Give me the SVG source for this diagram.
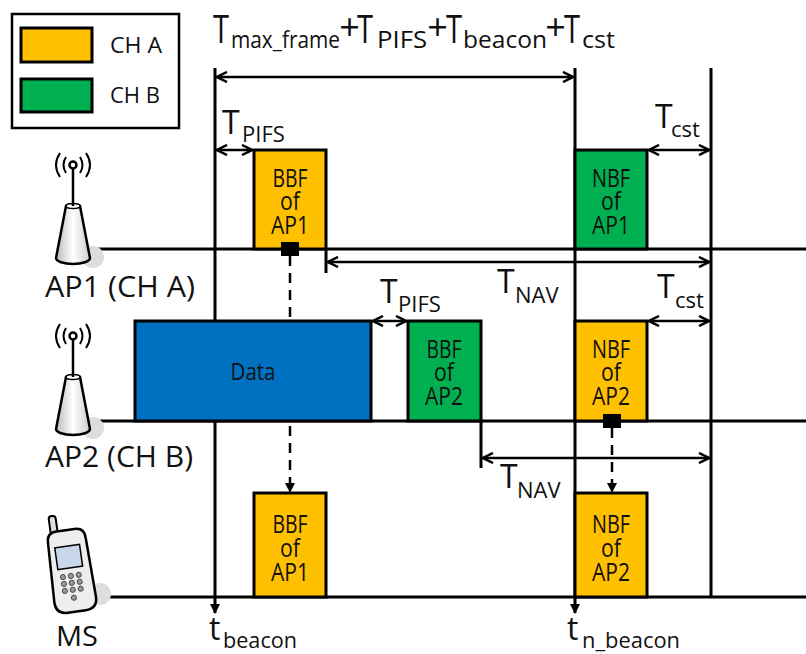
<svg xmlns="http://www.w3.org/2000/svg" width="806" height="654" viewBox="0 0 806 654">
<defs>
<style>
text{font-family:"Open Sans","Noto Sans","DejaVu Sans",sans-serif;fill:#111}
.ln{stroke:#000;stroke-width:3;fill:none}
.ar{stroke:#000;stroke-width:2.5;fill:none}
.box{stroke:#000;stroke-width:3}
.a{fill:#FFC000}
.b{fill:#00B050}
.d{fill:#0070C0}
.bt{font-size:25px;text-anchor:middle}
.tt{font-size:38px}
.ts{font-size:24px}
.tp{font-size:36px;text-anchor:middle}
.T{font-size:32px}
.s{font-size:22px}
.lab{font-size:30px}
</style>
<marker id="oa" viewBox="0 0 12 12" refX="11" refY="6" markerWidth="12" markerHeight="12" markerUnits="userSpaceOnUse" orient="auto-start-reverse">
<path d="M1,1 L11,6 L1,11" fill="none" stroke="#000" stroke-width="2.5"/>
</marker>
<marker id="fa" viewBox="0 0 10 10" refX="9" refY="5" markerWidth="10" markerHeight="10" markerUnits="userSpaceOnUse" orient="auto">
<path d="M0,0 L10,5 L0,10 Z" fill="#000"/>
</marker>
<linearGradient id="cone" x1="0" x2="1" y1="0" y2="0">
<stop offset="0" stop-color="#bbb"/><stop offset="0.5" stop-color="#fff"/><stop offset="1" stop-color="#ccc"/>
</linearGradient>
<g id="ant">
<circle cx="20" cy="-3" r="11" fill="#ddd"/>
<path d="M-7,-54 L7,-54 L17,-2 A17,6 0 0 1 -17,-2 Z" fill="url(#cone)" stroke="#000" stroke-width="2.5"/>
<ellipse cx="0" cy="-54" rx="7" ry="2.5" fill="#fff" stroke="#000" stroke-width="1.5"/>
<line x1="0" y1="-54" x2="0" y2="-93" stroke="#000" stroke-width="2.5"/>
<circle cx="0" cy="-95" r="3.5" fill="#fff" stroke="#000" stroke-width="2.5"/>
<path d="M-7,-103 Q-12,-95 -7,-87 M7,-103 Q12,-95 7,-87 M-13,-107 Q-21,-95 -13,-83 M13,-107 Q21,-95 13,-83" fill="none" stroke="#000" stroke-width="2"/>
</g>
</defs>
<rect width="806" height="654" fill="#fff"/>

<g id="legend">
<rect x="12" y="14" width="167" height="114" fill="#fff" stroke="#000" stroke-width="2.5"/>
<rect x="21" y="28" width="71" height="34" class="box a"/>
<rect x="21" y="79" width="71" height="33" class="box b"/>
<text x="110" y="53" font-size="21" textLength="52" lengthAdjust="spacingAndGlyphs">CH A</text>
<text x="110" y="103" font-size="21" textLength="50" lengthAdjust="spacingAndGlyphs">CH B</text>
</g>

<g id="connectors">
<line x1="215" y1="68" x2="215" y2="613" class="ln" marker-end="url(#fa)"/>
<line x1="575" y1="68" x2="575" y2="613" class="ln" marker-end="url(#fa)"/>
<line x1="711" y1="68" x2="711" y2="598" class="ln"/>
<line x1="73" y1="249" x2="806" y2="249" class="ln"/>
<line x1="90" y1="421" x2="806" y2="421" class="ln"/>
<line x1="95" y1="597" x2="806" y2="597" class="ln"/>
<line x1="217" y1="77" x2="573" y2="77" class="ar" marker-start="url(#oa)" marker-end="url(#oa)"/>
<line x1="217" y1="150" x2="252" y2="150" class="ar" marker-start="url(#oa)" marker-end="url(#oa)"/>
<line x1="649" y1="150" x2="709" y2="150" class="ar" marker-start="url(#oa)" marker-end="url(#oa)"/>
<line x1="326" y1="249" x2="326" y2="273" class="ln"/>
<line x1="328" y1="262" x2="709" y2="262" class="ar" marker-start="url(#oa)" marker-end="url(#oa)"/>
<line x1="373" y1="321" x2="406" y2="321" class="ar" marker-start="url(#oa)" marker-end="url(#oa)"/>
<line x1="649" y1="321" x2="709" y2="321" class="ar" marker-start="url(#oa)" marker-end="url(#oa)"/>
<line x1="481" y1="421" x2="481" y2="468" class="ln"/>
<line x1="483" y1="458" x2="709" y2="458" class="ar" marker-start="url(#oa)" marker-end="url(#oa)"/>
<line x1="290" y1="256" x2="290" y2="492" stroke="#000" stroke-width="2.5" stroke-dasharray="10,7" marker-end="url(#fa)"/>
<line x1="612" y1="428" x2="612" y2="492" stroke="#000" stroke-width="2.5" stroke-dasharray="10,7" marker-end="url(#fa)"/>
</g>

<g id="title">
<text><tspan class="tt" x="213" y="43" textLength="16" lengthAdjust="spacingAndGlyphs">T</tspan><tspan class="ts" x="231" y="48" textLength="109" lengthAdjust="spacingAndGlyphs">max_frame</tspan></text>
<text class="tp" x="349.5" y="40">+</text>
<text><tspan class="tt" x="357" y="43" textLength="16" lengthAdjust="spacingAndGlyphs">T</tspan><tspan class="ts" x="377" y="48" textLength="50" lengthAdjust="spacingAndGlyphs">PIFS</tspan></text>
<text class="tp" x="437.5" y="40">+</text>
<text><tspan class="tt" x="446" y="43" textLength="16" lengthAdjust="spacingAndGlyphs">T</tspan><tspan class="ts" x="463" y="48" textLength="84" lengthAdjust="spacingAndGlyphs">beacon</tspan></text>
<text class="tp" x="555.5" y="40">+</text>
<text><tspan class="tt" x="564" y="43" textLength="16" lengthAdjust="spacingAndGlyphs">T</tspan><tspan class="ts" x="582" y="48" textLength="33" lengthAdjust="spacingAndGlyphs">cst</tspan></text>
</g>

<g id="ap1">
<use href="#ant" x="73" y="260"/>
<text x="45" y="297" class="lab" textLength="150" lengthAdjust="spacingAndGlyphs">AP1 (CH A)</text>
</g>
<g id="ap2">
<use href="#ant" x="73" y="431"/>
<text x="45" y="467" class="lab" textLength="148" lengthAdjust="spacingAndGlyphs">AP2 (CH B)</text>
</g>
<g id="ms">
<circle cx="100" cy="594" r="11" fill="#ddd"/>
<g transform="rotate(-8 70 570)">
<rect x="56" y="514" width="7" height="22" rx="3" fill="#ddd" stroke="#000" stroke-width="2"/>
<path d="M52,540 Q52,530 62,530 L80,530 Q90,530 90,540 L92,600 Q92,612 80,612 L62,612 Q50,612 50,600 Z" fill="#eee" stroke="#000" stroke-width="2.5"/>
<rect x="58" y="546" width="25" height="22" fill="#c8d8ea" stroke="#000" stroke-width="1.5"/>
<g fill="#999" stroke="#333" stroke-width="0.8">
<circle cx="62" cy="576" r="2.6"/><circle cx="70" cy="576" r="2.6"/><circle cx="78" cy="576" r="2.6"/>
<circle cx="62" cy="583" r="2.6"/><circle cx="70" cy="583" r="2.6"/><circle cx="78" cy="583" r="2.6"/>
<circle cx="62" cy="590" r="2.6"/><circle cx="70" cy="590" r="2.6"/><circle cx="78" cy="590" r="2.6"/>
<circle cx="70" cy="598" r="2.6"/>
</g>
</g>
<text x="56" y="646" font-size="27" textLength="42" lengthAdjust="spacingAndGlyphs">MS</text>
</g>

<g id="bbf-ap1">
<rect x="254" y="150" width="72" height="99" class="box a"/>
<text class="bt"><tspan x="290" y="187" textLength="35" lengthAdjust="spacingAndGlyphs">BBF</tspan><tspan x="290" y="210" textLength="20" lengthAdjust="spacingAndGlyphs">of</tspan><tspan x="290" y="234" textLength="38" lengthAdjust="spacingAndGlyphs">AP1</tspan></text>
<rect x="281" y="242" width="18" height="14" fill="#000"/>
</g>
<g id="nbf-ap1">
<rect x="575" y="150" width="72" height="99" class="box b"/>
<text class="bt"><tspan x="611" y="187" textLength="38" lengthAdjust="spacingAndGlyphs">NBF</tspan><tspan x="611" y="210" textLength="20" lengthAdjust="spacingAndGlyphs">of</tspan><tspan x="611" y="234" textLength="38" lengthAdjust="spacingAndGlyphs">AP1</tspan></text>
</g>
<g id="data">
<rect x="135" y="321" width="236" height="100" class="box d"/>
<text x="253" y="380" font-size="24" text-anchor="middle" textLength="45" lengthAdjust="spacingAndGlyphs">Data</text>
</g>
<g id="bbf-ap2">
<rect x="408" y="321" width="73" height="100" class="box b"/>
<text class="bt"><tspan x="444" y="358" textLength="35" lengthAdjust="spacingAndGlyphs">BBF</tspan><tspan x="444" y="381" textLength="20" lengthAdjust="spacingAndGlyphs">of</tspan><tspan x="444" y="405" textLength="38" lengthAdjust="spacingAndGlyphs">AP2</tspan></text>
</g>
<g id="nbf-ap2">
<rect x="575" y="321" width="72" height="100" class="box a"/>
<text class="bt"><tspan x="611" y="358" textLength="38" lengthAdjust="spacingAndGlyphs">NBF</tspan><tspan x="611" y="381" textLength="20" lengthAdjust="spacingAndGlyphs">of</tspan><tspan x="611" y="405" textLength="38" lengthAdjust="spacingAndGlyphs">AP2</tspan></text>
<rect x="603" y="414" width="18" height="14" fill="#000"/>
</g>
<g id="ms-bbf">
<rect x="254" y="493" width="72" height="104" class="box a"/>
<text class="bt"><tspan x="290" y="533" textLength="35" lengthAdjust="spacingAndGlyphs">BBF</tspan><tspan x="290" y="557" textLength="20" lengthAdjust="spacingAndGlyphs">of</tspan><tspan x="290" y="581" textLength="38" lengthAdjust="spacingAndGlyphs">AP1</tspan></text>
</g>
<g id="ms-nbf">
<rect x="575" y="493" width="72" height="104" class="box a"/>
<text class="bt"><tspan x="611" y="533" textLength="38" lengthAdjust="spacingAndGlyphs">NBF</tspan><tspan x="611" y="557" textLength="20" lengthAdjust="spacingAndGlyphs">of</tspan><tspan x="611" y="581" textLength="38" lengthAdjust="spacingAndGlyphs">AP2</tspan></text>
</g>

<g id="labels">
<text><tspan class="T" x="222" y="134">T</tspan><tspan class="s" x="242" y="142">PIFS</tspan></text>
<text><tspan class="T" x="655" y="128">T</tspan><tspan class="s" x="671" y="137">cst</tspan></text>
<text><tspan class="T" x="497" y="293">T</tspan><tspan class="s" x="515" y="303">NAV</tspan></text>
<text><tspan class="T" x="380" y="303">T</tspan><tspan class="s" x="398" y="312">PIFS</tspan></text>
<text><tspan class="T" x="657" y="298">T</tspan><tspan class="s" x="675" y="308">cst</tspan></text>
<text><tspan class="T" x="500" y="488">T</tspan><tspan class="s" x="517" y="498">NAV</tspan></text>
<text><tspan class="T" x="209" y="640">t</tspan><tspan class="s" x="223" y="648" textLength="74" lengthAdjust="spacingAndGlyphs">beacon</tspan></text>
<text><tspan class="T" x="567" y="640">t</tspan><tspan class="s" x="582" y="648" textLength="98" lengthAdjust="spacingAndGlyphs">n_beacon</tspan></text>
</g>
</svg>
